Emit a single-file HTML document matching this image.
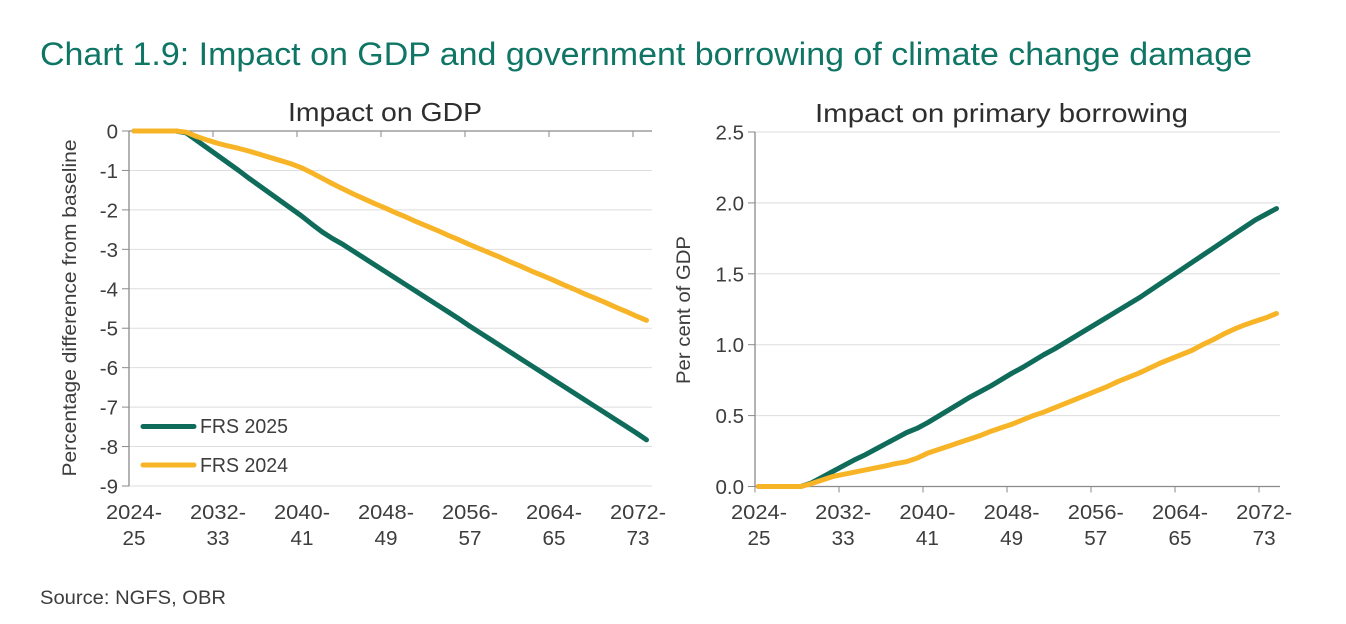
<!DOCTYPE html>
<html lang="en">
<head>
<meta charset="utf-8">
<title>Chart 1.9</title>
<style>
html,body{margin:0;padding:0;background:#fff;width:1346px;height:624px;overflow:hidden}
svg{display:block}
text{font-family:"Liberation Sans",sans-serif;fill:#3d3d3d}
</style>
</head>
<body>
<svg id="chart" xmlns="http://www.w3.org/2000/svg" width="1346" height="624" viewBox="0 0 1346 624">
  <rect width="1346" height="624" fill="#ffffff"/>
  <text x="40" y="65" font-size="32" textLength="1212" lengthAdjust="spacingAndGlyphs" style="fill:#0f7565">Chart 1.9: Impact on GDP and government borrowing of climate change damage</text>
  <text x="288" y="121" font-size="26" textLength="194" lengthAdjust="spacingAndGlyphs" style="fill:#2e2e2e">Impact on GDP</text>
  <text x="815" y="122" font-size="26" textLength="373" lengthAdjust="spacingAndGlyphs" style="fill:#2e2e2e">Impact on primary borrowing</text>
  <text transform="translate(76 308) rotate(-90)" text-anchor="middle" font-size="19" textLength="337" lengthAdjust="spacingAndGlyphs">Percentage difference from baseline</text>
  <text transform="translate(690 310) rotate(-90)" text-anchor="middle" font-size="19" textLength="148" lengthAdjust="spacingAndGlyphs">Per cent of GDP</text>
  <g id="left-plot"></g>
  <g id="right-plot"></g>
  <line x1="143" x2="194" y1="426.5" y2="426.5" stroke="#0f6b5a" stroke-width="5" stroke-linecap="round"/>
  <text x="200" y="433" font-size="20" textLength="88" lengthAdjust="spacingAndGlyphs">FRS 2025</text>
  <line x1="143" x2="194" y1="465" y2="465" stroke="#f7b427" stroke-width="5" stroke-linecap="round"/>
  <text x="200" y="472" font-size="20" textLength="88" lengthAdjust="spacingAndGlyphs">FRS 2024</text>
  <text x="40" y="604" font-size="19.5" textLength="186" lengthAdjust="spacingAndGlyphs">Source: NGFS, OBR</text>
</svg>
<script>
var tickLabelTop = ['2024-', '2032-', '2040-', '2048-', '2056-', '2064-', '2072-'];
var tickLabelBottom = ['25', '33', '41', '49', '57', '65', '73'];
var leftYTicks = [0, -1, -2, -3, -4, -5, -6, -7, -8, -9];
var rightYTicks = [0, 0.5, 1, 1.5, 2, 2.5];

var gdpFrs2025 = [0, 0, 0, 0, 0, -0.05, -0.24, -0.43, -0.62, -0.81, -1.0, -1.2, -1.39, -1.58, -1.77, -1.96, -2.15, -2.36, -2.56, -2.73, -2.88, -3.05, -3.22, -3.39, -3.56, -3.73, -3.9, -4.07, -4.24, -4.41, -4.58, -4.75, -4.93, -5.1, -5.27, -5.44, -5.61, -5.78, -5.95, -6.12, -6.29, -6.46, -6.63, -6.8, -6.97, -7.14, -7.31, -7.48, -7.65, -7.83];
var gdpFrs2024 = [0, 0, 0, 0, 0, -0.03, -0.14, -0.23, -0.31, -0.38, -0.44, -0.51, -0.59, -0.67, -0.75, -0.83, -0.93, -1.06, -1.2, -1.34, -1.47, -1.6, -1.72, -1.84, -1.95, -2.07, -2.18, -2.3, -2.41, -2.52, -2.64, -2.75, -2.87, -2.98, -3.09, -3.2, -3.32, -3.43, -3.55, -3.66, -3.77, -3.89, -4.0, -4.12, -4.23, -4.34, -4.46, -4.57, -4.69, -4.8];
var borrowingFrs2025 = [0, 0, 0, 0, 0, 0.025, 0.065, 0.105, 0.145, 0.185, 0.22, 0.26, 0.3, 0.34, 0.38, 0.41, 0.45, 0.495, 0.54, 0.585, 0.63, 0.67, 0.71, 0.755, 0.8, 0.84, 0.885, 0.93, 0.97, 1.015, 1.06, 1.105, 1.15, 1.195, 1.24, 1.285, 1.33, 1.38, 1.43, 1.48, 1.53, 1.58, 1.63, 1.68, 1.73, 1.78, 1.83, 1.88, 1.92, 1.96];
var borrowingFrs2024 = [0, 0, 0, 0, 0, 0.02, 0.045, 0.07, 0.085, 0.1, 0.115, 0.13, 0.145, 0.162, 0.175, 0.2, 0.235, 0.26, 0.285, 0.31, 0.335, 0.36, 0.39, 0.415, 0.44, 0.47, 0.5, 0.525, 0.555, 0.585, 0.615, 0.645, 0.675, 0.705, 0.74, 0.77, 0.8, 0.835, 0.87, 0.9, 0.93, 0.96, 1.0, 1.035, 1.075, 1.11, 1.14, 1.165, 1.19, 1.22];

var NS = 'http://www.w3.org/2000/svg';
function make(parent, tag, attrs, text) {
  var el = document.createElementNS(NS, tag);
  for (var k in attrs) el.setAttribute(k, attrs[k]);
  if (text !== undefined) el.textContent = text;
  parent.appendChild(el);
  return el;
}
function linearScale(d0, d1, r0, r1) {
  return function (v) { return r0 + (v - d0) / (d1 - d0) * (r1 - r0); };
}
function buildPanel(opts) {
  var g = document.getElementById(opts.id);
  var yScale = linearScale(opts.yMin, opts.yMax, opts.yBottom, opts.yTop);
  var xScale = linearScale(0, 49, opts.firstX, opts.lastX);

  opts.yTicks.forEach(function (v) {
    var y = yScale(v);
    if (v !== opts.axisValue) {
      var grid = make(g, 'line', {x1: opts.axisX, x2: opts.axisEnd, y1: y, y2: y, stroke: '#dedede', 'stroke-width': 1});
      
      
    }
    var tick = make(g, 'line', {x1: opts.axisX - 7, x2: opts.axisX, y1: y, y2: y, stroke: '#8a8a8a', 'stroke-width': 1});
    
    
    var label = make(g, 'text', {x: opts.axisX - 11, y: y + 7.5, 'text-anchor': 'end', 'font-size': 20.5}, opts.yFormat(v));
    
    
  });

  var yAxis = make(g, 'line', {x1: opts.axisX, x2: opts.axisX, y1: opts.yTop, y2: opts.yBottom, stroke: '#8a8a8a', 'stroke-width': 1.3});
  
  

  var axisY = yScale(opts.axisValue);
  var xAxis = make(g, 'line', {x1: opts.axisX, x2: opts.axisEnd, y1: axisY, y2: axisY, stroke: '#8a8a8a', 'stroke-width': 1.3});
  
  

  for (var t = 0; t <= 6; t++) {
    var tx = opts.axisX + t * opts.tickStep;
    var lx = opts.axisX + opts.labelOffset + t * opts.labelStep;
    var xt = make(g, 'line', {x1: tx, x2: tx, y1: axisY, y2: axisY + 6, stroke: '#8a8a8a', 'stroke-width': 1});
    
    
    var top = make(g, 'text', {x: lx, y: 519, 'text-anchor': 'middle', 'font-size': 20.5, textLength: 56, lengthAdjust: 'spacingAndGlyphs'}, tickLabelTop[t]);
    
    
    var bottom = make(g, 'text', {x: lx, y: 545, 'text-anchor': 'middle', 'font-size': 20.5, textLength: 23, lengthAdjust: 'spacingAndGlyphs'}, tickLabelBottom[t]);
    
    
  }

  function drawSeries(values, color, name) {
    var pts = values.map(function (v, i) { return xScale(i).toFixed(2) + ',' + yScale(v).toFixed(2); }).join(' ');
    var line = make(g, 'polyline', {points: pts, fill: 'none', stroke: color, 'stroke-width': 5, 'stroke-linecap': 'round', 'stroke-linejoin': 'round'});
    
    
  }
  drawSeries(opts.series2025, '#0f6b5a', 'series-frs-2025');
  drawSeries(opts.series2024, '#f7b427', 'series-frs-2024');
}

buildPanel({
  id: 'left-plot', axisX: 129, axisEnd: 652, tickStep: 84, labelStep: 84, labelOffset: 5,
  firstX: 134, lastX: 646.5, yTop: 131, yBottom: 486, yMin: -9, yMax: 0, axisValue: 0,
  yTicks: leftYTicks, yFormat: function (v) { return String(v); },
  series2025: gdpFrs2025, series2024: gdpFrs2024
});
buildPanel({
  id: 'right-plot', axisX: 755, axisEnd: 1280, tickStep: 84, labelStep: 84.2, labelOffset: 4,
  firstX: 758.5, lastX: 1276.5, yTop: 132, yBottom: 486.5, yMin: 0, yMax: 2.5, axisValue: 0,
  yTicks: rightYTicks, yFormat: function (v) { return v.toFixed(1); },
  series2025: borrowingFrs2025, series2024: borrowingFrs2024
});
</script>
</body>
</html>
